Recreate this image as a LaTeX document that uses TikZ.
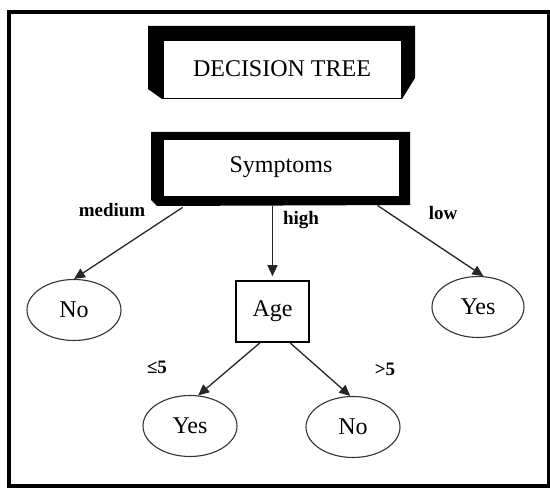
\documentclass[tikz,border=0pt]{standalone}
\usepackage{fontspec}
\setmainfont{Liberation Serif}
\usetikzlibrary{arrows.meta,shapes.geometric}
\begin{document}
\begin{tikzpicture}[
		    x=1pt,y=-1pt,
		    leaf/.style={ellipse,draw=black!80,line width=1.1pt,minimum width=94pt,minimum height=61pt,inner sep=0pt,font=\fontsize{24}{28}\selectfont},
		    box/.style={rectangle,draw,fill=white,inner sep=0pt,font=\fontsize{24}{28}\selectfont},
		    lbl/.style={font=\bfseries\fontsize{19}{22}\selectfont},
		    arr/.style={draw=black!85,line width=1.3pt,-{Triangle[length=11pt,width=10pt]}}]
			\useasboundingbox (0,0) rectangle (550,489);
			\draw[line width=4pt] (9,12) rectangle (549,486);
			\fill (148,26) -- (415,26) -- (415,78) -- (402,99) -- (162,99) -- (148,89) -- cycle;
			\fill (151,132) -- (410,132) -- (410,205) -- (157,206) -- (151,200) -- cycle;
			\node [box,line width=0.8pt,minimum width=238pt,minimum height=58pt] (title) at (282,69) {DECISION TREE};
			\node [box,line width=0.8pt,minimum width=236pt,minimum height=57pt] (symp) at (281,167.5) {Symptoms};
			\node [leaf] (no) at (74,310) {No};
			\node [box,line width=1.6pt,minimum width=73pt,minimum height=61pt] (age) at (272.5,311.5) {Age};
			\node [leaf,minimum width=92pt] (ryes) at (478,307) {Yes};
			\node [leaf] (byes) at (190,426) {Yes};
			\node [leaf] (bno) at (353,427) {No};
			\node [lbl] (lmed) at (112,210) {medium};
			\node [lbl] (lhigh) at (301,220) {high};
			\node [lbl] (llow) at (443,213) {low};
			\node [lbl] (lle) at (157,367) {≤5};
			\node [lbl] (lgt) at (385,369) {>5};
			\draw[arr] ([xshift=20pt,yshift=-11pt]symp.south west) -- (no.north);
			\draw[arr,shorten >=4pt] ([xshift=-8.5pt,yshift=-10pt]symp.south) -- (age.north);
			\draw[arr] ([xshift=-22pt,yshift=-9pt]symp.south east) -- (ryes.80);
			\draw[arr] ([xshift=-12.5pt]age.south) -- (byes.75);
			\draw[arr] ([xshift=17.5pt]age.south) -- (bno.95);
		\end{tikzpicture}
\end{document}
